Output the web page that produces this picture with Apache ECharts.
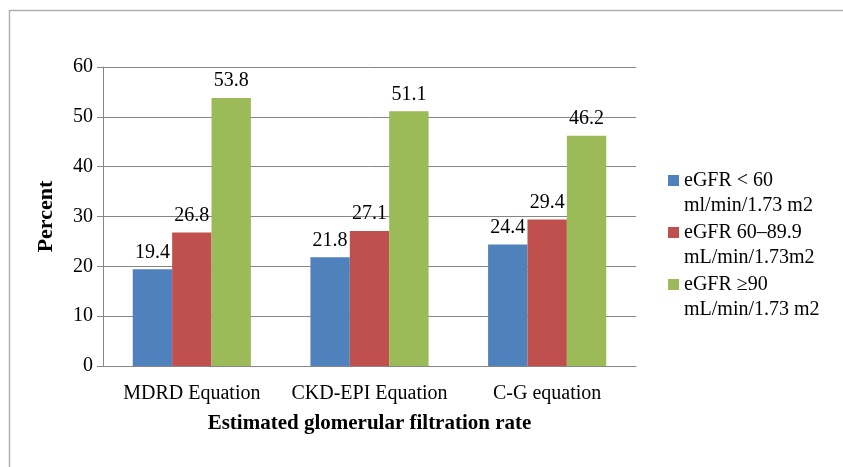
<!DOCTYPE html>
<html><head><meta charset="utf-8">
<script src="https://cdn.jsdelivr.net/npm/echarts@6/dist/echarts.min.js"></script>
<style>html,body{margin:0;padding:0;background:#fff}#c{width:843px;height:467px}</style>
</head><body><div id="c"></div>
<script>
var categories = ['MDRD Equation', 'CKD-EPI Equation', 'C-G equation'];
var seriesNames = ['eGFR < 60\nml/min/1.73 m2', 'eGFR 60–89.9\nmL/min/1.73m2', 'eGFR ≥90\nmL/min/1.73 m2'];
var lowValues = [19.4, 21.8, 24.4];
var midValues = [26.8, 27.1, 29.4];
var highValues = [53.8, 51.1, 46.2];
var colors = ['#4F81BD', '#C0504D', '#9BBB59'];
var font = '"Liberation Serif", "Times New Roman", serif';

var chart = echarts.init(document.getElementById('c'));
function mk(i, data) {
  return {
    name: seriesNames[i], type: 'bar', data: data,
    itemStyle: { color: colors[i] },
    barGap: '0%', barCategoryGap: '33.5%',
    label: { show: true, position: 'top', distance: 7, color: '#000', fontFamily: font, fontSize: 20 }
  };
}
chart.setOption({
  animation: false,
  textStyle: { fontFamily: font },
  graphic: [{ type: 'rect', left: 7, top: 8, shape: { width: 860, height: 480 }, style: { fill: 'none', stroke: '#b0b0b0', lineWidth: 1.5 } }],
  grid: { left: 103, right: 207, top: 67, bottom: 101 },
  legend: {
    orient: 'vertical', left: 668, top: 168, padding: 0,
    itemWidth: 11, itemHeight: 36, itemGap: 2,
    icon: 'path://M0,0L11,0L11,11L0,11Z M0,36L11,36Z',
    textStyle: { fontFamily: font, fontSize: 20, color: '#000', lineHeight: 25 },
    data: seriesNames
  },
  xAxis: {
    type: 'category', data: categories,
    name: 'Estimated glomerular filtration rate', nameLocation: 'middle', nameGap: 47,
    nameTextStyle: { fontFamily: font, fontSize: 21, fontWeight: 'bold', color: '#000' },
    axisLine: { lineStyle: { color: '#868686' } },
    axisTick: { show: false },
    axisLabel: { interval: 0, color: '#000', fontFamily: font, fontSize: 20, margin: 18 }
  },
  yAxis: {
    type: 'value', min: 0, max: 60, interval: 10,
    name: 'Percent', nameLocation: 'middle', nameGap: 46, nameRotate: 90,
    nameTextStyle: { fontFamily: font, fontSize: 22, fontWeight: 'bold', color: '#000' },
    axisLine: { show: true, lineStyle: { color: '#868686' } },
    axisTick: { show: true, length: 6, lineStyle: { color: '#868686' } },
    splitLine: { lineStyle: { color: '#868686' } },
    axisLabel: { color: '#000', fontFamily: font, fontSize: 20, margin: 10 }
  },
  series: [mk(0, lowValues), mk(1, midValues), mk(2, highValues)]
});
</script></body></html>
